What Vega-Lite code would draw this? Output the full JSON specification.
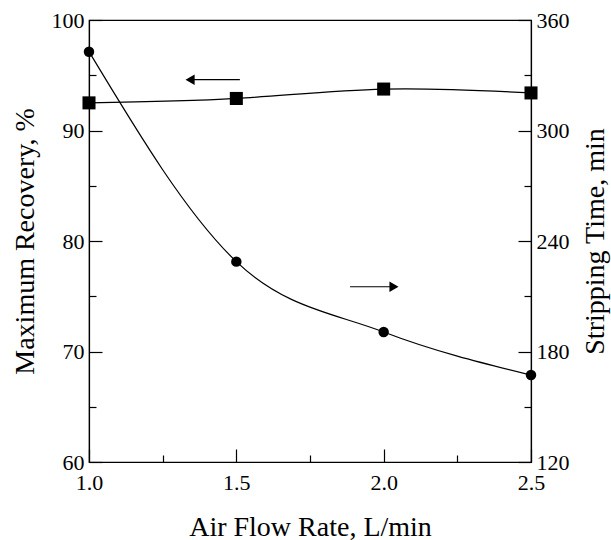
{
  "$schema": "https://vega.github.io/schema/vega-lite/v6.json",
  "width": 442,
  "height": 442,
  "autosize": {"type": "none"},
  "padding": {"left": 89, "top": 20, "right": 80, "bottom": 78},
  "background": "white",
  "config": {
    "font": "Liberation Serif",
    "view": {"stroke": "black", "strokeWidth": 1.2},
    "axis": {
      "domainColor": "black",
      "domainWidth": 1.2,
      "tickColor": "black",
      "tickWidth": 1.2,
      "labelColor": "black",
      "titleColor": "black",
      "labelFont": "Liberation Serif",
      "titleFont": "Liberation Serif",
      "labelFontSize": 22,
      "titleFontSize": 28,
      "titleFontWeight": "normal",
      "grid": false,
      "labelFlush": false,
      "labelOverlap": false
    }
  },
  "datasets": {
    "recovery": [
      {"flow": 1.0, "recovery": 92.5},
      {"flow": 1.5, "recovery": 92.9},
      {"flow": 2.0, "recovery": 93.75},
      {"flow": 2.5, "recovery": 93.4}
    ],
    "stripping": [
      {"flow": 1.0, "time": 342.8},
      {"flow": 1.5, "time": 228.8},
      {"flow": 2.0, "time": 190.6},
      {"flow": 2.5, "time": 167.2}
    ],
    "arrows": [
      {"dir": "left", "start": 1.343, "end": 1.512, "head": 1.343, "level": 94.6},
      {"dir": "right", "start": 1.886, "end": 2.035, "head": 2.035, "level": 75.86}
    ]
  },
  "resolve": {"scale": {"y": "independent"}},
  "layer": [
    {
      "data": {"name": "recovery"},
      "encoding": {
        "x": {
          "field": "flow", "type": "quantitative",
          "scale": {"domain": [1, 2.5], "nice": false, "zero": false},
          "axis": {
            "title": "Air Flow Rate, L/min",
            "values": [1, 1.25, 1.5, 1.75, 2, 2.25, 2.5],
            "labelExpr": "abs(datum.value*2 - round(datum.value*2)) < 0.001 ? format(datum.value, '.1f') : ''",
            "tickSize": {"condition": {"test": "abs(datum.value*2 - round(datum.value*2)) < 0.001", "value": -13}, "value": -7},
            "labelPadding": 23,
            "titlePadding": 14
          }
        },
        "y": {
          "field": "recovery", "type": "quantitative",
          "scale": {"domain": [60, 100], "nice": false, "zero": false},
          "axis": {
            "orient": "left",
            "title": "Maximum Recovery, %",
            "values": [60, 65, 70, 75, 80, 85, 90, 95, 100],
            "labelExpr": "datum.value % 10 === 0 ? datum.label : ''",
            "tickSize": {"condition": {"test": "datum.value % 10 === 0", "value": -13}, "value": -7},
            "labelPadding": 18,
            "titlePadding": 12
          }
        }
      },
      "layer": [
        {"mark": {"type": "line", "interpolate": "natural", "color": "black", "strokeWidth": 1.2}},
        {"mark": {"type": "point", "shape": "square", "filled": true, "color": "black", "opacity": 1, "size": 170}}
      ]
    },
    {
      "data": {"name": "arrows"},
      "layer": [
        {
          "mark": {"type": "rule", "color": "black", "strokeWidth": 1.2},
          "encoding": {
            "x": {"field": "start", "type": "quantitative"},
            "x2": {"field": "end"},
            "y": {"field": "level", "type": "quantitative", "scale": {"domain": [60, 100], "nice": false, "zero": false}, "axis": null}
          }
        },
        {
          "mark": {"type": "point", "filled": true, "color": "black", "opacity": 1, "size": 110},
          "encoding": {
            "x": {"field": "head", "type": "quantitative"},
            "y": {"field": "level", "type": "quantitative", "scale": {"domain": [60, 100], "nice": false, "zero": false}, "axis": null},
            "shape": {"field": "dir", "type": "nominal", "scale": {"domain": ["left", "right"], "range": ["triangle-left", "triangle-right"]}, "legend": null}
          }
        }
      ]
    },
    {
      "data": {"name": "stripping"},
      "encoding": {
        "x": {"field": "flow", "type": "quantitative"},
        "y": {
          "field": "time", "type": "quantitative",
          "scale": {"domain": [120, 360], "nice": false, "zero": false},
          "axis": {
            "orient": "right",
            "title": "Stripping Time, min",
            "titleAngle": 270,
            "titleBaseline": "top",
            "values": [120, 150, 180, 210, 240, 270, 300, 330, 360],
            "labelExpr": "datum.value % 60 === 0 ? datum.label : ''",
            "tickSize": {"condition": {"test": "datum.value % 60 === 0", "value": -13}, "value": -7},
            "labelPadding": 18,
            "titlePadding": 12
          }
        }
      },
      "layer": [
        {"mark": {"type": "line", "interpolate": "monotone", "color": "black", "strokeWidth": 1.2}},
        {"mark": {"type": "point", "shape": "circle", "filled": true, "color": "black", "opacity": 1, "size": 110}}
      ]
    }
  ]
}
